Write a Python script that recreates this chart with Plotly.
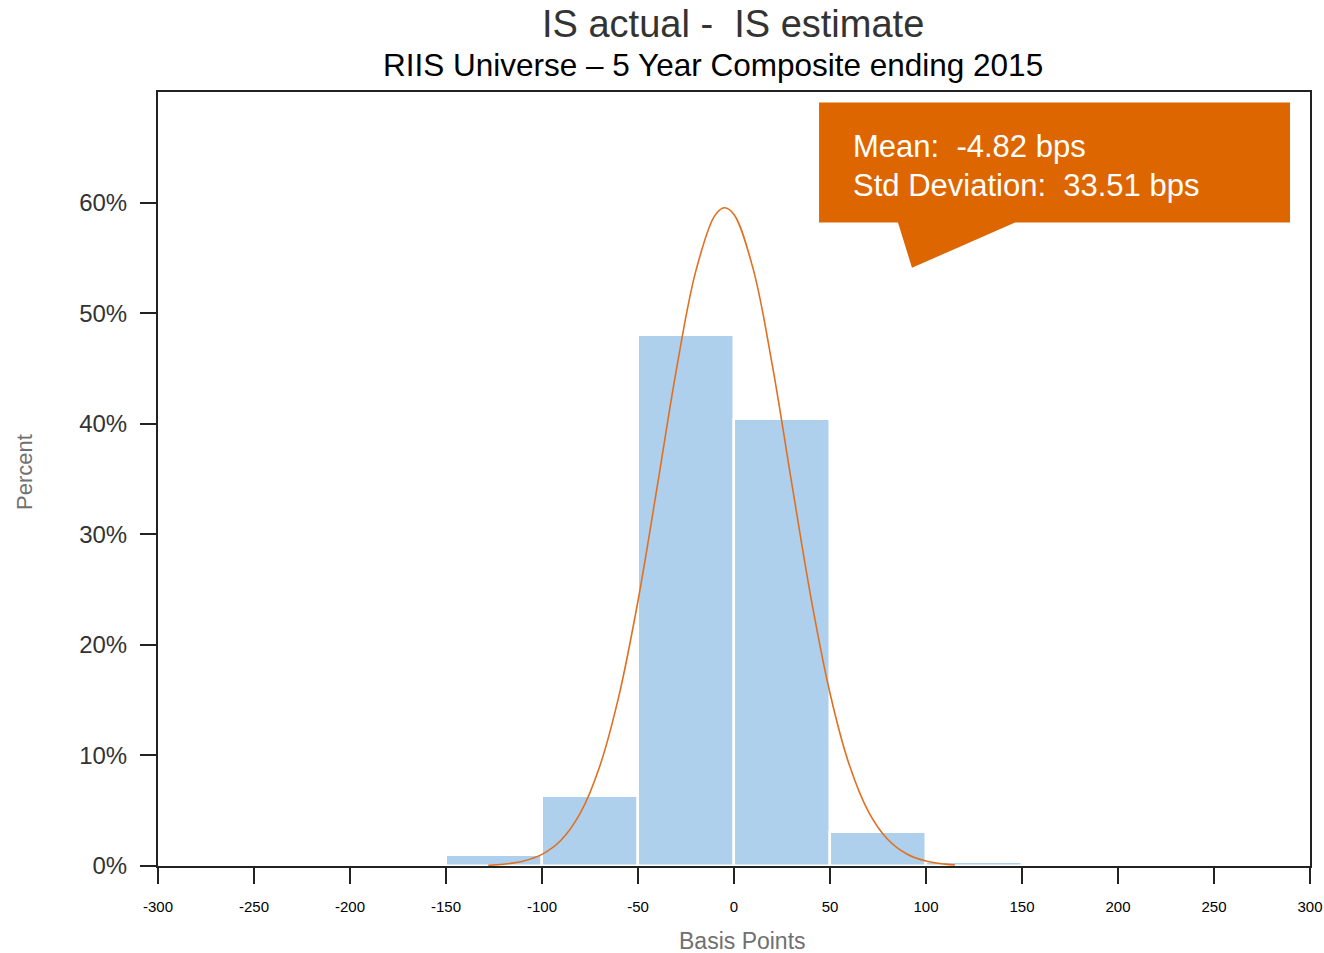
import plotly.graph_objects as go

# ---- data ----
bin_centers = [-125, -75, -25, 25, 75, 125]
bin_percent = [1.0, 6.3, 48.0, 40.4, 3.1, 0.4]
bin_width = 50

curve_x = [-128, -120, -110, -100, -90, -80, -70, -60, -50, -40, -30, -20, -10, -5, 0,
           10, 20, 30, 40, 50, 60, 70, 80, 90, 100, 110, 115]
curve_y = [0.06, 0.16, 0.43, 1.05, 2.35, 4.80, 8.98, 15.34, 23.99, 34.31, 44.89, 53.73, 58.82, 59.53, 58.92,
           53.98, 45.25, 34.70, 24.34, 15.62, 9.17, 4.92, 2.42, 1.09, 0.45, 0.17, 0.10]

x_ticks = [-300, -250, -200, -150, -100, -50, 0, 50, 100, 150, 200, 250, 300]
y_ticks = [0, 10, 20, 30, 40, 50, 60]
y_tick_labels = ["0%", "10%", "20%", "30%", "40%", "50%", "60%"]

title = "IS actual -  IS estimate"
subtitle = "RIIS Universe \u2013 5 Year Composite ending 2015"
stats_lines = ["Mean:\u00a0\u00a0-4.82 bps", "Std Deviation:\u00a0\u00a033.51 bps"]

FONT = "Liberation Sans, Arial, sans-serif"
BAR_COLOR = "#AFD0EC"
CURVE_COLOR = "#E07020"
BOX_COLOR = "#DE6600"

W, H = 1324, 953
ML, MR, MT, MB = 158, 14, 92, 87
PW, PH = W - ML - MR, H - MT - MB


def px_x(p):
    return (p - ML) / PW


def px_y(p):
    return (H - MB - p) / PH


fig = go.Figure()
fig.add_trace(go.Bar(
    x=bin_centers, y=bin_percent, width=[bin_width] * len(bin_centers),
    marker=dict(color=BAR_COLOR, line=dict(color="white", width=2.5)),
    showlegend=False, hoverinfo="skip"))
fig.add_trace(go.Scatter(
    x=curve_x, y=curve_y, mode="lines", line=dict(color=CURVE_COLOR, width=1.6),
    line_shape="spline", showlegend=False, hoverinfo="skip"))

# callout box (data coordinates)
x0, x1, y0, y1 = 44.3, 289.6, 58.2, 69.05
tail_a, tail_b, tip_x, tip_y = 146.4, 85.4, 92.7, 54.1
path = (f"M {x0},{y1} L {x1},{y1} L {x1},{y0} L {tail_a},{y0} "
        f"L {tip_x},{tip_y} L {tail_b},{y0} L {x0},{y0} Z")
fig.add_shape(type="path", path=path, xref="x", yref="y",
              fillcolor=BOX_COLOR, line=dict(color=BOX_COLOR, width=0), layer="above")

fig.add_annotation(x=px_x(851), y=px_y(146), xref="paper", yref="paper", text=stats_lines[0],
                   showarrow=False, xanchor="left", yanchor="middle",
                   font=dict(family=FONT, size=31, color="white"))
fig.add_annotation(x=px_x(851), y=px_y(185), xref="paper", yref="paper", text=stats_lines[1],
                   showarrow=False, xanchor="left", yanchor="middle",
                   font=dict(family=FONT, size=31, color="white"))

fig.add_annotation(x=px_x(733), y=px_y(24), xref="paper", yref="paper", text=title,
                   showarrow=False, xanchor="center", yanchor="middle",
                   font=dict(family=FONT, size=38, color="#333333"))
fig.add_annotation(x=px_x(713), y=px_y(65), xref="paper", yref="paper", text=subtitle,
                   showarrow=False, xanchor="center", yanchor="middle",
                   font=dict(family=FONT, size=31.5, color="#000000"))
fig.add_annotation(x=px_x(25), y=px_y(472), xref="paper", yref="paper", text="Percent",
                   showarrow=False, xanchor="center", yanchor="middle", textangle=-90,
                   font=dict(family=FONT, size=22, color="#707070"))
fig.add_annotation(x=px_x(742), y=px_y(941), xref="paper", yref="paper", text="Basis Points",
                   showarrow=False, xanchor="center", yanchor="middle",
                   font=dict(family=FONT, size=23, color="#707070"))

fig.update_layout(
    width=W, height=H,
    margin=dict(l=ML, r=MR, t=MT, b=MB, autoexpand=False),
    paper_bgcolor="white", plot_bgcolor="white",
    bargap=0,
    xaxis=dict(range=[-300, 300], tickvals=x_ticks, ticktext=[str(v) for v in x_ticks],
               ticks="outside", ticklen=16, tickwidth=2, tickcolor="#222222",
               showline=True, linecolor="#222222", linewidth=2, mirror=True,
               showgrid=False, zeroline=False, ticklabelstandoff=10,
               tickfont=dict(family="Liberation Sans Narrow, Arial Narrow, Liberation Sans, sans-serif",
                             size=15, color="#000000")),
    yaxis=dict(range=[0, 70], tickvals=y_ticks, ticktext=y_tick_labels,
               ticks="outside", ticklen=16, tickwidth=2, tickcolor="#222222",
               showline=True, linecolor="#222222", linewidth=2, mirror=True,
               showgrid=False, zeroline=False, ticklabelstandoff=8,
               tickfont=dict(family=FONT, size=24, color="#333333")),
)

fig.write_html("out.html", config={"displayModeBar": False},
               post_script="document.body.style.margin='0';document.body.style.overflow='hidden';")
